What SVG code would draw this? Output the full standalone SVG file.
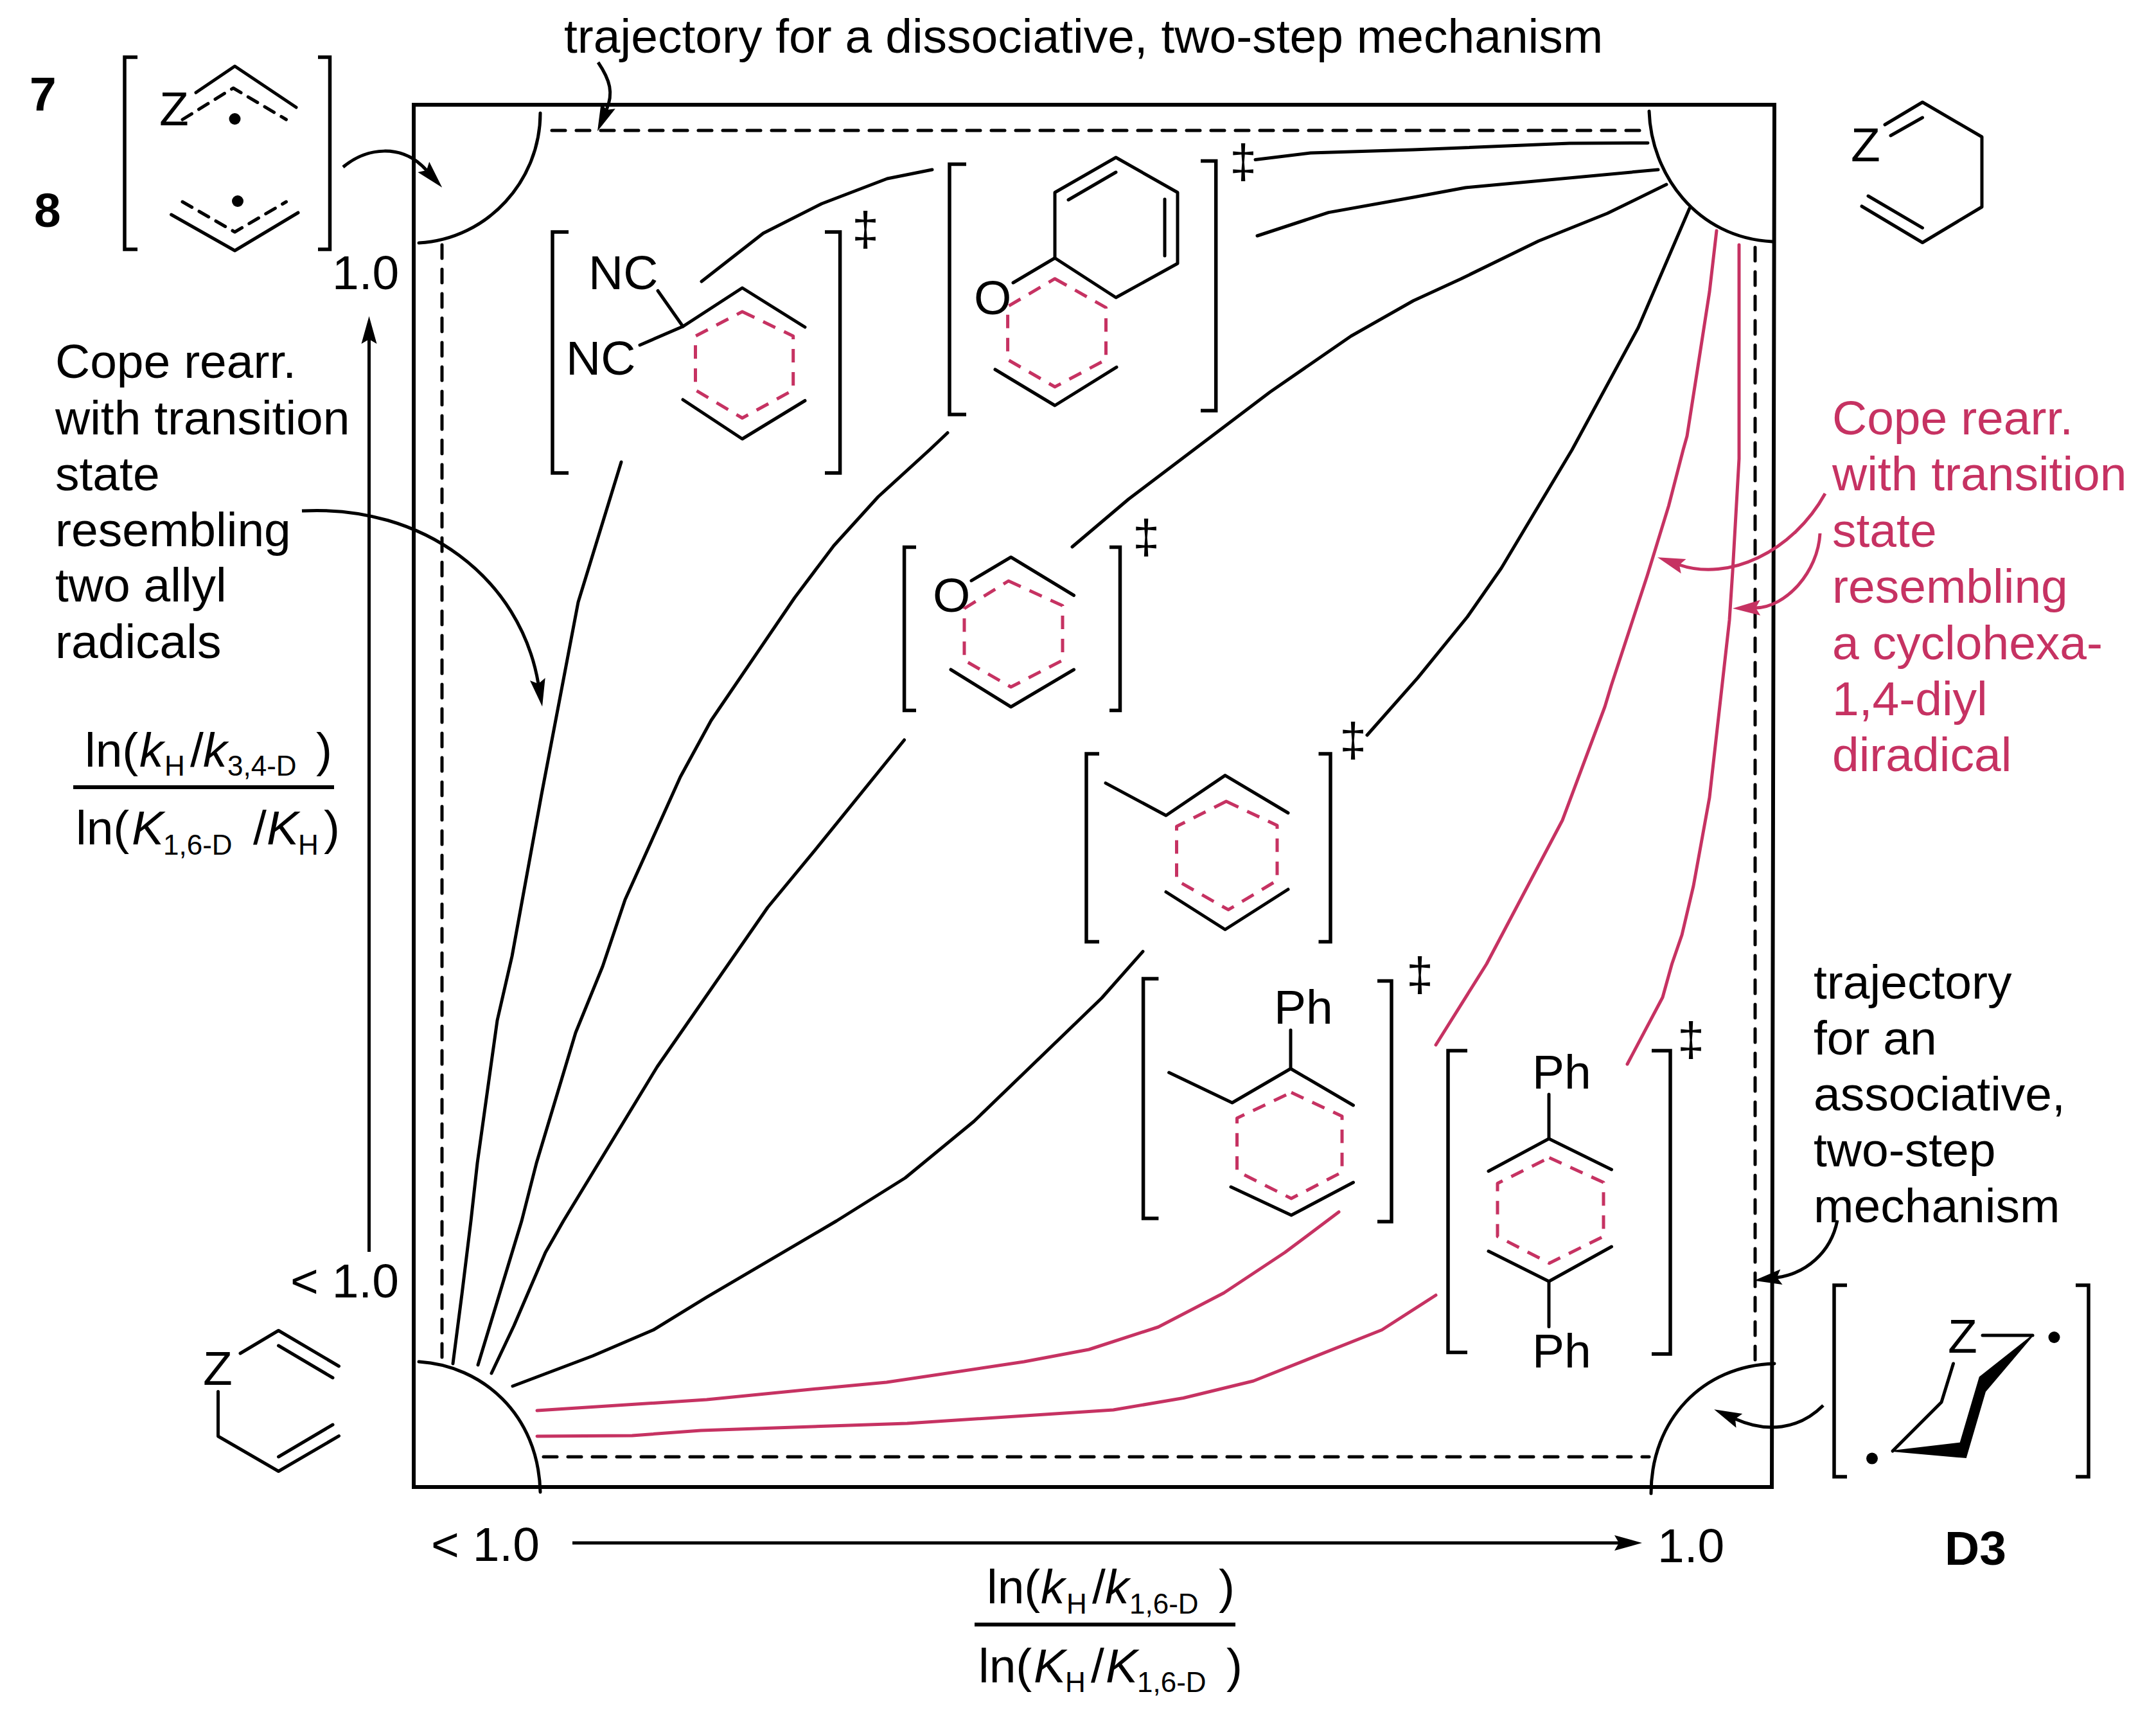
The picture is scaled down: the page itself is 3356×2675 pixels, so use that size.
<svg xmlns="http://www.w3.org/2000/svg" width="3356" height="2675" viewBox="0 0 3356 2675">
<style>
text{font-family:"Liberation Sans",Arial,sans-serif;font-size:75px;fill:#000}
.b{font-weight:bold}
.p{fill:#c63262}
.i{font-style:italic}
.s{font-size:44px}
.d{text-anchor:middle}
.l,.c,.pc,.dk,.ph,.ar,.par{fill:none;stroke-linejoin:round}
.l{stroke:#000;stroke-width:5;stroke-linecap:round}
.c{stroke:#000;stroke-width:5;stroke-linecap:round}
.pc{stroke:#c63262;stroke-width:5;stroke-linecap:round}
.dk{stroke:#000;stroke-width:5;stroke-dasharray:21 17;stroke-linecap:round}
.ph{stroke:#c63262;stroke-width:5;stroke-dasharray:21 15}
.br{fill:none;stroke:#000;stroke-width:5.5;stroke-linejoin:miter}
.ar{stroke:#000;stroke-width:5;marker-end:url(#ah)}
.par{stroke:#c63262;stroke-width:5;marker-end:url(#ahp)}
.bx{fill:none;stroke:#000;stroke-width:6}
</style>
<defs>
<marker id="ah" markerUnits="userSpaceOnUse" markerWidth="60" markerHeight="40" refX="9" refY="15" orient="auto" overflow="visible"><path d="M45,15 L2,3 L9,15 L2,27Z" fill="#000"/></marker>
<marker id="ahp" markerUnits="userSpaceOnUse" markerWidth="60" markerHeight="40" refX="9" refY="15" orient="auto" overflow="visible"><path d="M45,15 L2,3 L9,15 L2,27Z" fill="#c63262"/></marker>
</defs>
<rect width="3356" height="2675" fill="#fff"/>

<g id="plot-frame">
<path class="bx" d="M644,2314 L644,163 L2762,163 L2758,2314 Z"/>
<path class="l" d="M841,176 C841,280 760,372 652,378"/>
<path class="l" d="M2567,173 C2570,270 2640,370 2759,376"/>
<path class="l" d="M652,2119 C750,2125 838,2200 841,2322"/>
<path class="l" d="M2762,2122 C2650,2125 2570,2210 2570,2324"/>
<path class="dk" d="M859,203 L2565,203"/>
<path class="dk" d="M688,381 L688,2117"/>
<path class="dk" d="M2732,385 L2732,2118"/>
<path class="dk" d="M846,2267 L2567,2267"/>
<text x="517" y="450">1.0</text>
<text x="452" y="2019">&lt; 1.0</text>
<text x="671" y="2429">&lt; 1.0</text>
<text x="2580" y="2431">1.0</text>
</g>

<g id="connectors">
<path class="ar" d="M574.5,1948 L574.5,528"/>
<path class="ar" d="M891,2401 L2520,2401"/>
<path class="ar" d="M931,97 C950,125 955,145 944,171"/>
<path class="ar" d="M534,260 C570,230 625,222 664,265"/>
<path class="ar" d="M470,795 C660,785 810,900 838,1064"/>
<path class="ar" d="M2860,1899 C2850,1950 2810,1982 2766,1988"/>
<path class="ar" d="M2838,2187 C2800,2225 2750,2230 2701,2208"/>
<path class="par" d="M2841,768 C2790,860 2690,905 2614,879"/>
<path class="par" d="M2833,830 C2830,890 2780,945 2733,946"/>
<polyline class="c" points="967,719 900,937 843,1236 797,1488 774,1588 743,1810 733,1900 719,2014 705,2122"/>
<polyline class="c" points="1092,438 1188,363 1279,317 1381,278 1451,264"/>
<polyline class="c" points="1954,248.5 2040,238 2200,233 2443,223 2565,222.5"/>
<polyline class="c" points="1957,367 2068,330.6 2200,307 2281,292 2581,264"/>
<polyline class="c" points="2594,287 2502,332 2395,375 2274,434 2200,468 2103,523 1977,610 1757,776.5 1669,851"/>
<polyline class="c" points="1475,673.5 1447,700 1367,773 1298,849 1237,930 1107,1121 1059,1209 973,1400 938,1504 896,1607 835,1810 812,1900 744,2124"/>
<polyline class="c" points="1407.6,1151.5 1271,1320 1195,1412 1023,1660 877,1900 849,1949 800,2063 765,2137"/>
<polyline class="c" points="1779,1480.6 1715,1553 1516,1745 1409,1833 1302,1900 1100,2018.6 1017,2069.5 922.5,2110 798,2157"/>
<polyline class="c" points="2630,324 2550,510 2447,700 2337,884 2284,960 2207,1054.6 2128,1144"/>
<polyline class="pc" points="2672,359 2661,454 2642,576.5 2626,678.6 2620,700 2597.5,787 2564,896 2508,1067 2498,1100 2432,1276.5 2314,1500 2235,1626"/>
<polyline class="pc" points="2707,381 2707,714 2697,889 2692,965 2661,1241 2636,1378.6 2618,1455 2602.5,1500 2588,1552 2533,1656"/>
<polyline class="pc" points="836,2195 1100,2178 1273,2161 1380,2151 1594,2119 1695,2100 1803,2065 1905,2012 2000,1949 2084,1886"/>
<polyline class="pc" points="836,2235 984,2234 1091,2226 1412,2215 1733,2194 1842,2175.5 1951,2149 2151,2069.5 2235,2015.5"/>
</g>

<g id="label-top"><text x="878" y="82">trajectory for a dissociative, two-step mechanism</text></g>
<g id="label-left">
<text x="86" y="588">Cope rearr.</text>
<text x="86" y="676">with transition</text>
<text x="86" y="763">state</text>
<text x="86" y="850">resembling</text>
<text x="86" y="936">two allyl</text>
<text x="86" y="1024">radicals</text>
</g>
<g id="label-right">
<text class="p" x="2852" y="676">Cope rearr.</text>
<text class="p" x="2852" y="763">with transition</text>
<text class="p" x="2852" y="851">state</text>
<text class="p" x="2852" y="938">resembling</text>
<text class="p" x="2852" y="1026">a cyclohexa-</text>
<text class="p" x="2852" y="1113">1,4-diyl</text>
<text class="p" x="2852" y="1200">diradical</text>
</g>
<g id="label-assoc">
<text x="2823" y="1554">trajectory</text>
<text x="2823" y="1641">for an</text>
<text x="2823" y="1728">associative,</text>
<text x="2823" y="1815">two-step</text>
<text x="2823" y="1902">mechanism</text>
</g>

<g id="y-axis-label">
<text x="132" y="1193">ln(<tspan class="i" x="217">k</tspan><tspan class="s" x="256" y="1207">H</tspan><tspan x="296" y="1193">/</tspan><tspan class="i" x="316">k</tspan><tspan class="s" x="354" y="1207">3,4-D</tspan><tspan x="492" y="1193">)</tspan></text>
<path class="bx" d="M114,1225 L520,1225"/>
<text x="118" y="1314">ln(<tspan class="i" x="205">K</tspan><tspan class="s" x="254" y="1330">1,6-D</tspan><tspan x="394" y="1314">/</tspan><tspan class="i" x="415">K</tspan><tspan class="s" x="464" y="1330">H</tspan><tspan x="504" y="1314">)</tspan></text>
</g>
<g id="x-axis-label">
<text x="1536" y="2495">ln(<tspan class="i" x="1620">k</tspan><tspan class="s" x="1660" y="2511">H</tspan><tspan x="1700" y="2495">/</tspan><tspan class="i" x="1720">k</tspan><tspan class="s" x="1758" y="2511">1,6-D</tspan><tspan x="1897" y="2495">)</tspan></text>
<path class="bx" d="M1517,2528 L1923,2528"/>
<text x="1523" y="2618">ln(<tspan class="i" x="1609">K</tspan><tspan class="s" x="1658" y="2633">H</tspan><tspan x="1698" y="2618">/</tspan><tspan class="i" x="1721">K</tspan><tspan class="s" x="1770" y="2633">1,6-D</tspan><tspan x="1909" y="2618">)</tspan></text>
</g>

<g id="node-7-8">
<text class="b" x="46" y="172">7</text>
<text class="b" x="53" y="353">8</text>
<path class="br" d="M214,89 H194 V388 H214"/>
<path class="br" d="M495,89 H513.5 V388 H495"/>
<text x="248" y="195">Z</text>
<polyline class="l" points="305,144 365.5,103 461,167"/>
<polyline class="dk" style="stroke-dasharray:17 13" points="284,186 363,137 445.5,186"/>
<circle cx="365.5" cy="185" r="9"/>
<polyline class="l" points="266.6,334 365.5,390 464,331"/>
<polyline class="dk" style="stroke-dasharray:17 13" points="284,314 365.5,361 445.5,314"/>
<circle cx="370" cy="313" r="9"/>
</g>

<g id="node-reactant-tr">
<text x="2881" y="251">Z</text>
<polyline class="l" points="2934,194 2992.5,159 3085,213 3085,322 2992.5,377.5 2898,321"/>
<path class="l" d="M2943,211 L2992.5,183 M2908,305 L2992.5,354.6"/>
</g>

<g id="node-reactant-bl">
<text x="316" y="2155">Z</text>
<polyline class="l" points="374,2106 433.5,2070.5 527.5,2126"/>
<path class="l" d="M433.5,2094 L518,2144"/>
<polyline class="l" points="339.5,2165.5 339.5,2235 433.5,2289.5 527.5,2234.6"/>
<path class="l" d="M433.5,2267 L518,2217"/>
</g>

<g id="node-nc">
<path class="br" d="M885,361 H860 V736 H885"/>
<path class="br" d="M1284,361 H1307.6 V736 H1284"/>
<text class="d" x="1347" y="382">‡</text>
<text x="916" y="450">NC</text>
<text x="881" y="583">NC</text>
<path class="l" d="M1024,452.5 L1063,508 M996,537 L1063,508"/>
<polyline class="l" points="1063,508 1155.4,448 1253,509"/>
<polyline class="l" points="1063,622 1155.4,683 1253,623.5"/>
<polygon class="ph" points="1155.4,485 1234.7,523 1234.7,607 1155.4,650.5 1082.5,607 1082.5,523"/>
</g>

<g id="node-phenoxy">
<path class="br" d="M1504,255.6 H1478 V645 H1504"/>
<path class="br" d="M1869,250.5 H1892.7 V639 H1869"/>
<text class="d" x="1935" y="277">‡</text>
<polygon class="l" points="1642,401.5 1642,299.5 1737,245 1833,299.5 1833,410 1737,463"/>
<path class="l" d="M1663,311 L1737,268 M1813,310 L1813,398 M1577,440 L1642,401.5"/>
<text x="1516" y="489">O</text>
<polygon class="ph" points="1642,433.7 1721.5,478.6 1721.5,559.7 1642,602 1568.6,559.7 1568.6,477"/>
<polyline class="l" points="1549,575 1642,631 1738,571.4"/>
</g>

<g id="node-oxa">
<path class="br" d="M1426,851.5 H1407.6 V1105.6 H1426"/>
<path class="br" d="M1727,851.5 H1743.5 V1105.6 H1727"/>
<text class="d" x="1784" y="861">‡</text>
<text x="1452" y="952">O</text>
<polyline class="l" points="1512,903.6 1573.6,867 1671.6,926.5"/>
<polygon class="ph" points="1569.8,904 1654,942.6 1654,1027.5 1573.6,1069 1501,1027.5 1501,947"/>
<polyline class="l" points="1480,1042 1573.6,1100 1671.6,1042"/>
</g>

<g id="node-benzyl">
<path class="br" d="M1711,1173 H1691 V1465.5 H1711"/>
<path class="br" d="M2052.5,1173 H2071 V1465.5 H2052.5"/>
<text class="d" x="2106" y="1177">‡</text>
<polyline class="l" points="1721,1218.6 1815,1269 1907,1206.6 2005,1265"/>
<polyline class="l" points="1815,1388 1907,1446.5 2005,1384"/>
<polygon class="ph" points="1908.7,1247 1988,1284.5 1988,1370 1912,1415.7 1831.5,1370 1831.5,1286"/>
</g>

<g id="node-ph">
<path class="br" d="M1803.4,1523 H1779.6 V1896 H1803.4"/>
<path class="br" d="M2144,1526.5 H2166 V1901 H2144"/>
<text class="d" x="2210" y="1542">‡</text>
<text x="1983" y="1593">Ph</text>
<path class="l" d="M2009,1603 L2009,1663"/>
<polyline class="l" points="1819.6,1669 1918,1716 2009,1663 2106.5,1720"/>
<polyline class="l" points="1916,1847 2010,1891 2106.5,1840"/>
<polygon class="ph" points="2010,1700 2089,1737 2089,1824 2010,1865 1925.5,1822.5 1925.5,1740"/>
</g>

<g id="node-diph">
<path class="br" d="M2284,1635 H2254 V2104.5 H2284"/>
<path class="br" d="M2571,1635 H2600 V2107 H2571"/>
<text class="d" x="2632" y="1643">‡</text>
<text x="2385" y="1694">Ph</text>
<text x="2385" y="2128">Ph</text>
<path class="l" d="M2411,1703 L2411,1772 M2411,1994 L2411,2064.6"/>
<polyline class="l" points="2317,1822.5 2411,1772 2508.5,1820"/>
<polyline class="l" points="2317,1947 2411,1994 2508.5,1940"/>
<polygon class="ph" points="2411.6,1801.5 2496,1840 2496,1924 2411.6,1965.7 2331,1924 2331,1841.5"/>
</g>

<g id="node-D3">
<path class="br" d="M2875,2000 H2855 V2298 H2875"/>
<path class="br" d="M3231,2000 H3251 V2298 H3231"/>
<text x="3032" y="2105">Z</text>
<path class="l" d="M3086,2078 L3164,2078"/>
<polygon points="3164,2078 3081.7,2143 3051.5,2245.6 2946,2258 3060,2268 3090,2165.4" fill="#000" stroke="#000" stroke-width="2"/>
<polyline class="l" points="3040.5,2122 3022,2182 2946,2258"/>
<circle cx="3197.5" cy="2081" r="9"/>
<circle cx="2914" cy="2269.6" r="9"/>
<text class="b" x="3027" y="2435">D3</text>
</g>
</svg>
